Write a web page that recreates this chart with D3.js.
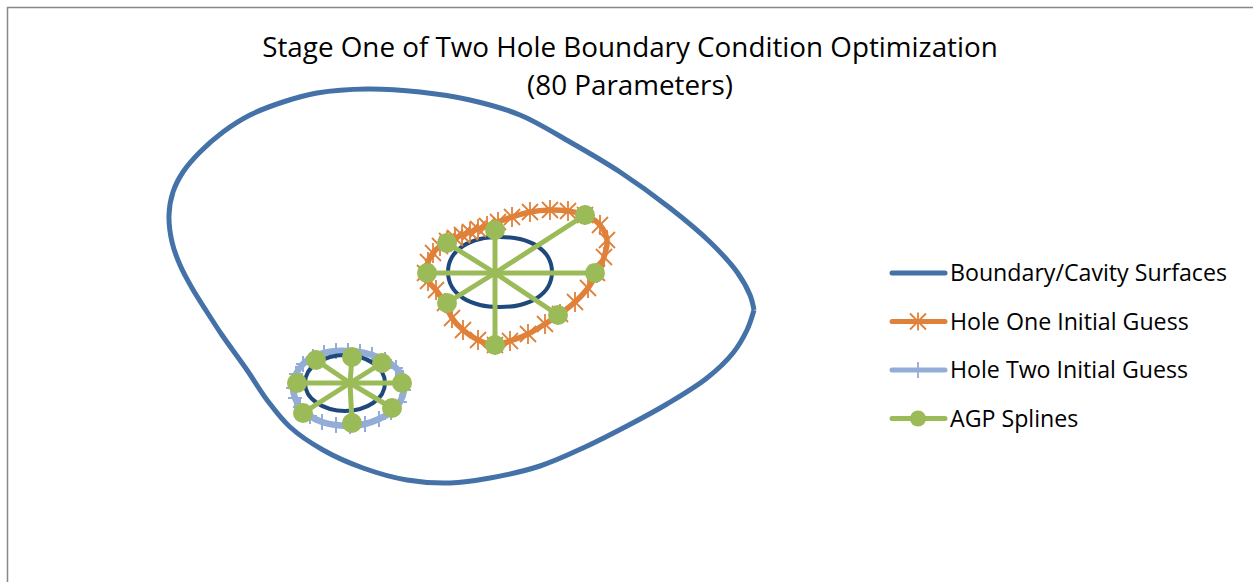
<!DOCTYPE html>
<html>
<head>
<meta charset="utf-8">
<style>
  body { margin: 0; background: #fff; }
  svg { display: block; }
  text { font-family: "Open Sans", Lato, sans-serif; fill: #000; }
</style>
</head>
<body>
<svg width="1253" height="582"></svg>
<script src="https://d3js.org/d3.v7.min.js"></script>
<script>

// outer boundary (starts and ends at the right-hand tip)
var boundary = [
  [5.48,-0.20],[5.40,0.10],[5.14,0.56],[4.60,1.16],[3.80,1.84],[2.80,2.56],[1.80,3.16],
  [0.80,3.70],[-0.20,4.00],[-1.20,4.16],[-2.26,4.22],[-3.26,4.14],[-3.94,3.96],
  [-4.60,3.70],[-5.14,3.36],[-5.60,2.96],[-5.94,2.56],[-6.14,2.16],[-6.22,1.70],[-6.16,1.16],
  [-6.00,0.70],[-5.76,0.24],[-5.46,-0.24],[-5.16,-0.70],[-4.66,-1.40],[-4.26,-2.00],[-3.80,-2.54],
  [-3.14,-3.00],[-2.34,-3.36],[-1.46,-3.60],[-0.60,-3.66],[0.20,-3.56],[1.20,-3.32],[2.06,-2.96],
  [2.94,-2.52],[3.74,-2.08],[4.54,-1.56],[5.06,-1.06],[5.34,-0.60],[5.48,-0.20]
];

// cavity surfaces
var cavityOne = [
  [-0.64,0.56],[-0.56,0.86],[-0.34,1.08],[0.00,1.22],[0.40,1.26],[0.80,1.22],[1.14,1.08],[1.36,0.86],
  [1.44,0.56],[1.36,0.26],[1.14,0.04],[0.80,-0.10],[0.40,-0.14],[0.00,-0.10],[-0.34,0.04],[-0.56,0.26]
];
var cavityTwo = [
  [-3.50,-1.66],[-3.44,-1.44],[-3.26,-1.26],[-3.00,-1.14],[-2.70,-1.10],[-2.40,-1.14],[-2.14,-1.26],[-1.96,-1.44],
  [-1.90,-1.66],[-1.96,-1.88],[-2.14,-2.06],[-2.40,-2.18],[-2.70,-2.22],[-3.00,-2.18],[-3.26,-2.06],[-3.44,-1.88]
];

// initial guesses
var holeOne = [
  [-1.10,0.54],[-1.04,0.76],[-0.94,0.94],[-0.80,1.08],[-0.66,1.18],[-0.50,1.24],[-0.36,1.30],[-0.20,1.36],
  [-0.04,1.42],[0.14,1.48],[0.36,1.56],[0.64,1.66],[1.00,1.76],[1.40,1.80],[1.76,1.78],[2.10,1.70],
  [2.40,1.50],[2.54,1.20],[2.48,0.86],[2.34,0.54],[2.16,0.24],[1.90,-0.04],[1.60,-0.28],[1.30,-0.48],
  [0.96,-0.68],[0.60,-0.82],[0.30,-0.90],[-0.04,-0.80],[-0.34,-0.60],[-0.56,-0.36],[-0.70,-0.06],
  [-0.88,0.20],[-1.04,0.38]
];
var holeTwo = [
  [-3.74,-1.76],[-3.68,-1.48],[-3.54,-1.28],[-3.34,-1.14],[-3.12,-1.06],[-2.88,-1.02],[-2.64,-1.02],
  [-2.40,-1.04],[-2.16,-1.10],[-1.90,-1.20],[-1.68,-1.36],[-1.54,-1.56],[-1.52,-1.80],[-1.60,-2.04],
  [-1.78,-2.24],[-2.02,-2.38],[-2.30,-2.48],[-2.60,-2.52],[-2.88,-2.50],[-3.16,-2.44],[-3.40,-2.32],
  [-3.60,-2.14],[-3.70,-1.96]
];

// AGP spline spokes
var splineOneCenter = [0.30, 0.54];
var splineOneEnds = [
  [-0.66,1.14],[0.30,1.40],[2.10,1.70],[-1.06,0.54],[2.30,0.54],[-0.66,-0.06],[1.56,-0.30],[0.30,-0.90]
];
var splineTwoCenter = [-2.60, -1.66];
var splineTwoEnds = [
  [-3.28,-1.20],[-2.56,-1.14],[-1.96,-1.26],[-3.66,-1.66],[-1.56,-1.66],[-3.54,-2.26],[-1.76,-2.16],[-2.56,-2.46]
];

var titleLines = ["Stage One of Two Hole Boundary Condition Optimization", "(80 Parameters)"];
var legendNames = ["Boundary/Cavity Surfaces", "Hole One Initial Guess", "Hole Two Initial Guess", "AGP Splines"];

var cBoundary = "#4472a8", cCavity = "#1f497d", cOne = "#e0813a", cTwo = "#93add6", cAgp = "#9bbb59";

var svg = d3.select("svg");

svg.append("rect")
    .attr("x", 7.5).attr("y", 7.5)
    .attr("width", 1400).attr("height", 700)
    .attr("fill", "none").attr("stroke", "#888").attr("stroke-width", 1.5);

var x = d3.scaleLinear().domain([-6, 6]).range([180, 780]);
var y = d3.scaleLinear().domain([-4, 4]).range([500, 100]);

var openLine = d3.line().x(function(d) { return x(d[0]); }).y(function(d) { return y(d[1]); })
    .curve(d3.curveCatmullRom.alpha(0.5));
var loopLine = d3.line().x(function(d) { return x(d[0]); }).y(function(d) { return y(d[1]); })
    .curve(d3.curveCatmullRomClosed.alpha(0.5));

// fit a text element's font size to a width
function fitWidth(sel, w) {
  sel.each(function() {
    var fs = parseFloat(this.style.fontSize);
    var len = this.getComputedTextLength();
    if (len > 0) d3.select(this).style("font-size", (fs * w / len).toFixed(2) + "px");
  });
}

// title
var title = svg.selectAll(".title").data(titleLines).enter().append("text")
    .attr("class", "title")
    .attr("x", 630).attr("y", function(d, i) { return 57 + i * 38; })
    .attr("text-anchor", "middle")
    .style("font-size", "27px")
    .text(function(d) { return d; });
fitWidth(title.filter(function(d, i) { return i === 0; }), 736);
title.filter(function(d, i) { return i === 1; })
    .style("font-size", svg.select(".title").style("font-size"));

var g = svg.append("g");

g.append("path").datum(boundary)
    .attr("fill", "none").attr("stroke", cBoundary).attr("stroke-width", 5)
    .attr("stroke-linejoin", "round").attr("d", openLine);

// hole two guess
g.append("path").datum(holeTwo)
    .attr("fill", "none").attr("stroke", cTwo).attr("stroke-width", 6.5).attr("d", loopLine);
g.selectAll(".plus").data(holeTwo).enter().append("path")
    .attr("class", "plus")
    .attr("transform", function(d) { return "translate(" + x(d[0]) + "," + y(d[1]) + ")"; })
    .attr("d", "M-7,0H7M0,-8V8")
    .attr("stroke", cTwo).attr("stroke-width", 2);

// cavities
[cavityOne, cavityTwo].forEach(function(c) {
  g.append("path").datum(c)
      .attr("fill", "none").attr("stroke", cCavity).attr("stroke-width", 4).attr("d", loopLine);
});

// hole one guess
g.append("path").datum(holeOne)
    .attr("fill", "none").attr("stroke", cOne).attr("stroke-width", 5.5).attr("d", loopLine);
g.selectAll(".star").data(holeOne).enter().append("path")
    .attr("class", "star")
    .attr("transform", function(d) { return "translate(" + x(d[0]) + "," + y(d[1]) + ")"; })
    .attr("d", "M-8,-8L8,8M-8,8L8,-8M0,-10V10")
    .attr("stroke", cOne).attr("stroke-width", 1.8);

// AGP splines
[[splineOneCenter, splineOneEnds], [splineTwoCenter, splineTwoEnds]].forEach(function(s) {
  var c = s[0];
  g.selectAll(null).data(s[1]).enter().append("line")
      .attr("x1", x(c[0])).attr("y1", y(c[1]))
      .attr("x2", function(d) { return x(d[0]); }).attr("y2", function(d) { return y(d[1]); })
      .attr("stroke", cAgp).attr("stroke-width", 5);
  g.selectAll(null).data(s[1]).enter().append("circle")
      .attr("cx", function(d) { return x(d[0]); }).attr("cy", function(d) { return y(d[1]); })
      .attr("r", 10).attr("fill", cAgp);
});

// legend
var legend = svg.append("g").attr("transform", "translate(890,273)");
var rows = legend.selectAll("g").data(legendNames).enter().append("g")
    .attr("transform", function(d, i) { return "translate(0," + (i * 48.5) + ")"; });
var lc = [cBoundary, cOne, cTwo, cAgp];
rows.append("line")
    .attr("x1", 2).attr("x2", 55).attr("y1", 0).attr("y2", 0)
    .attr("stroke", function(d, i) { return lc[i]; }).attr("stroke-width", 5)
    .attr("stroke-linecap", "round");
rows.append("path")
    .attr("d", function(d, i) {
      if (i === 1) return "M20,-8L36,8M20,8L36,-8M28,-9V9";
      if (i === 2) return "M28,-8V8";
      return "";
    })
    .attr("stroke", function(d, i) { return lc[i]; }).attr("stroke-width", 1.8);
rows.filter(function(d, i) { return i === 3; }).append("circle")
    .attr("cx", 28).attr("cy", 0).attr("r", 8).attr("fill", cAgp);
var ltext = rows.append("text")
    .attr("x", 60).attr("y", 8)
    .style("font-size", "22px")
    .text(function(d) { return d; });
fitWidth(ltext.filter(function(d, i) { return i === 0; }), 277);
ltext.style("font-size", ltext.filter(function(d, i) { return i === 0; }).style("font-size"));

</script>
</body>
</html>
